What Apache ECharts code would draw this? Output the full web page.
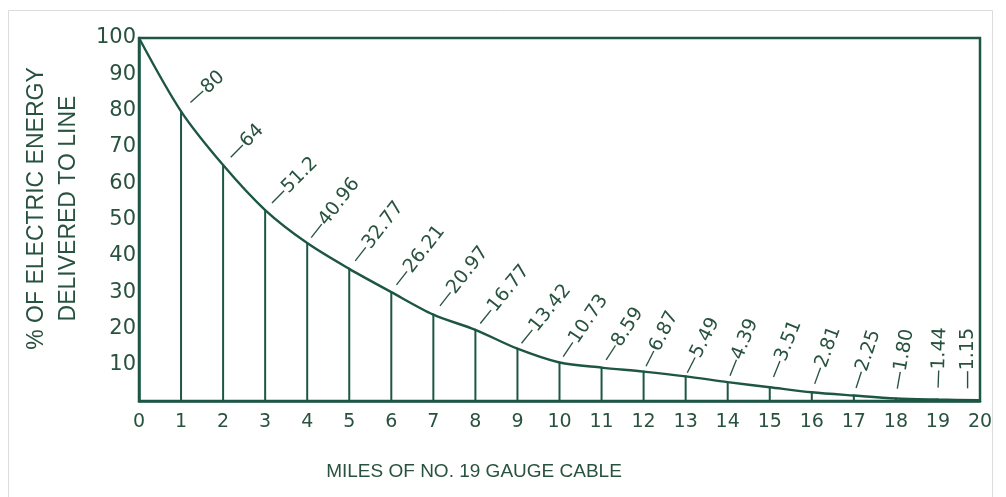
<!DOCTYPE html>
<html>
<head>
<meta charset="utf-8">
<script src="https://cdn.jsdelivr.net/npm/echarts@6/dist/echarts.min.js"></script>
<style>
html,body{margin:0;padding:0;background:#ffffff;}
#c{width:1006px;height:497px;}
</style>
</head>
<body>
<div id="c"></div>
<script>
// ---- data ----
const miles = [0, 1, 2, 3, 4, 5, 6, 7, 8, 9, 10, 11, 12, 13, 14, 15, 16, 17, 18, 19, 20];
// height of the drawn curve at each mile (% of electric energy)
const energyCurve = [100, 79.8, 65, 52.6, 43.5, 36.4, 30, 23.8, 19.6, 14.4, 10.6, 9.2, 8.1, 6.8, 5.2, 3.8, 2.4, 1.5, 0.7, 0.4, 0.2];
// values printed next to each mile
const printedValues = ['', '80', '64', '51.2', '40.96', '32.77', '26.21', '20.97', '16.77', '13.42', '10.73', '8.59', '6.87', '5.49', '4.39', '3.51', '2.81', '2.25', '1.80', '1.44', '1.15'];
// miles that carry a vertical drop line
const dropMiles = [1, 2, 3, 4, 5, 6, 7, 8, 9, 10, 11, 12, 13, 14, 15, 16, 17, 18, 19];
const yTickValues = [0, 10, 20, 30, 40, 50, 60, 70, 80, 90, 100];

const yTitle = '% OF ELECTRIC ENERGY\nDELIVERED TO LINE';
const xTitle = 'MILES OF NO. 19 GAUGE CABLE';

// ---- label styling (angles in degrees, offsets in px along/across text) ----
const labelAngles = [0, 42, 45, 45, 52, 52, 52, 52, 51, 51, 56, 57, 63, 63, 68, 68, 70, 72, 80, 88, 90];
const labelOffsets = [[0,0],[12,0],[10,0],[9,0],[6,0],[9,0],[8,0],[10,0],[7,0],[6,0],[6,0],[8,0],[5,0],[3,0],[6,0],[10,0],[8,0],[7,0],[9,0],[11,0],[11,-12]];

const ink = '#1d5645';
const textInk = '#28523f';

const chart = echarts.init(document.getElementById('c'), null, {renderer: 'canvas'});

const lineData = miles.map((m, i) => {
  const item = {value: [m, energyCurve[i]]};
  if (printedValues[i]) {
    item.label = {
      show: true,
      formatter: '\u2014' + printedValues[i],
      rotate: labelAngles[i],
      offset: labelOffsets[i]
    };
  } else {
    item.label = {show: false};
  }
  return item;
});

const dropData = dropMiles.map(m => [m, energyCurve[miles.indexOf(m)]]);

chart.setOption({
  animation: false,
  backgroundColor: '#ffffff',
  graphic: [{
    type: 'rect',
    left: 6, top: 8,
    shape: {width: 984, height: 500},
    style: {fill: 'none', stroke: '#dcdcdc', lineWidth: 1},
    silent: true, z: -1
  }],
  grid: {
    left: 139, right: 26, top: 38, bottom: 96,
    show: true, borderColor: ink, borderWidth: 2.5, backgroundColor: 'transparent'
  },
  xAxis: {
    type: 'value', min: 0, max: 20, interval: 1,
    name: xTitle, nameLocation: 'middle', nameGap: 61,
    nameTextStyle: {fontFamily: 'Liberation Sans', fontSize: 19, color: textInk, padding: [0, 171, 0, 0]},
    axisLine: {show: true, lineStyle: {color: ink, width: 2.5}},
    axisTick: {show: false},
    splitLine: {show: false},
    axisLabel: {fontFamily: 'DejaVu Sans', fontSize: 19, color: textInk, margin: 12}
  },
  yAxis: {
    type: 'value', min: 0, max: 100, interval: 10,
    name: yTitle, nameLocation: 'middle', nameGap: 50, nameRotate: 90,
    nameTextStyle: {fontFamily: 'Liberation Sans', fontSize: 23, lineHeight: 32, color: textInk, align: 'center', padding: [0, 0, 0, 22]},
    axisLine: {show: true, lineStyle: {color: ink, width: 2.5}},
    axisTick: {show: false},
    splitLine: {show: false},
    axisLabel: {
      fontFamily: 'DejaVu Sans', fontSize: 21, color: textInk, margin: 3,
      formatter: v => (v === yTickValues[0] ? '' : String(v))
    }
  },
  series: [
    {
      type: 'bar',
      data: dropData,
      barWidth: 2,
      itemStyle: {color: ink},
      z: 1,
      silent: true
    },
    {
      type: 'line',
      data: lineData,
      smooth: 0.3,
      symbol: 'circle',
      symbolSize: 2,
      showSymbol: true,
      lineStyle: {color: ink, width: 2.4},
      itemStyle: {color: ink},
      label: {
        show: true,
        position: 'inside',
        align: 'left',
        verticalAlign: 'middle',
        fontFamily: 'DejaVu Sans',
        fontSize: 19,
        color: textInk
      },
      z: 3,
      silent: true
    }
  ]
});
</script>
</body>
</html>
